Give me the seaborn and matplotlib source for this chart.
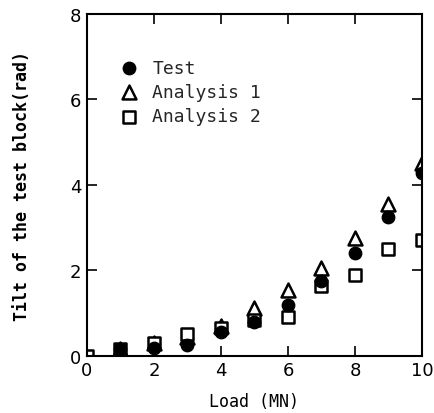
import numpy as np
import pandas as pd
import seaborn as sns
import matplotlib.pyplot as plt

load = [0, 1, 2, 3, 4, 5, 6, 7, 8, 9, 10]
test = [0.0, 0.15, 0.18, 0.26, 0.55, 0.80, 1.20, 1.75, 2.41, 3.25, 4.27]
analysis1 = [0.0, 0.15, 0.30, 0.45, 0.70, 1.12, 1.55, 2.05, 2.76, 3.56, 4.52]
analysis2 = [0.0, 0.15, 0.30, 0.50, 0.65, 0.85, 0.92, 1.63, 1.90, 2.50, 2.70]

sns.set_theme(style="ticks")
plt.rcParams['font.family'] = ['DejaVu Sans Mono', 'DejaVu Sans']

fig = plt.figure(figsize=(4.35, 4.14), dpi=100)
ax = fig.add_axes([0.2, 0.138, 0.77, 0.826])

sns.scatterplot(x=load[1:], y=test[1:], marker="o", s=80, color="black",
                edgecolor="black", linewidth=1, ax=ax, label="Test", zorder=3)
sns.scatterplot(x=load[1:], y=analysis1[1:], marker="^", s=100, facecolor="white",
                edgecolor="black", linewidth=1.8, ax=ax, label="Analysis 1", zorder=2)
sns.scatterplot(x=load, y=analysis2, marker="s", s=85, facecolor="white",
                edgecolor="black", linewidth=1.8, ax=ax, label="Analysis 2", zorder=2)

ax.set_xlim(0, 10)
ax.set_ylim(0, 8)
ax.set_xticks([0, 2, 4, 6, 8, 10])
ax.set_yticks([0, 2, 4, 6, 8])
ax.tick_params(direction="in", top=True, right=True, length=7, width=1.2,
               labelsize=13, colors="black", pad=4)
for lbl in ax.get_xticklabels() + ax.get_yticklabels():
    lbl.set_family("DejaVu Sans")
for s in ax.spines.values():
    s.set_linewidth(1.5)
    s.set_color("black")

ax.set_xlabel("Load (MN)", fontsize=12, color="black", labelpad=9)
ax.set_ylabel("Tilt of the test block(rad)", fontsize=12, color="black",
              labelpad=28, fontweight="bold")

ax.legend(loc="upper left", bbox_to_anchor=(0.05, 0.89), frameon=False,
          fontsize=13, handletextpad=0.3, labelspacing=0.35, borderaxespad=0,
          markerscale=1.0)

fig.savefig("out.png", dpi=100)
